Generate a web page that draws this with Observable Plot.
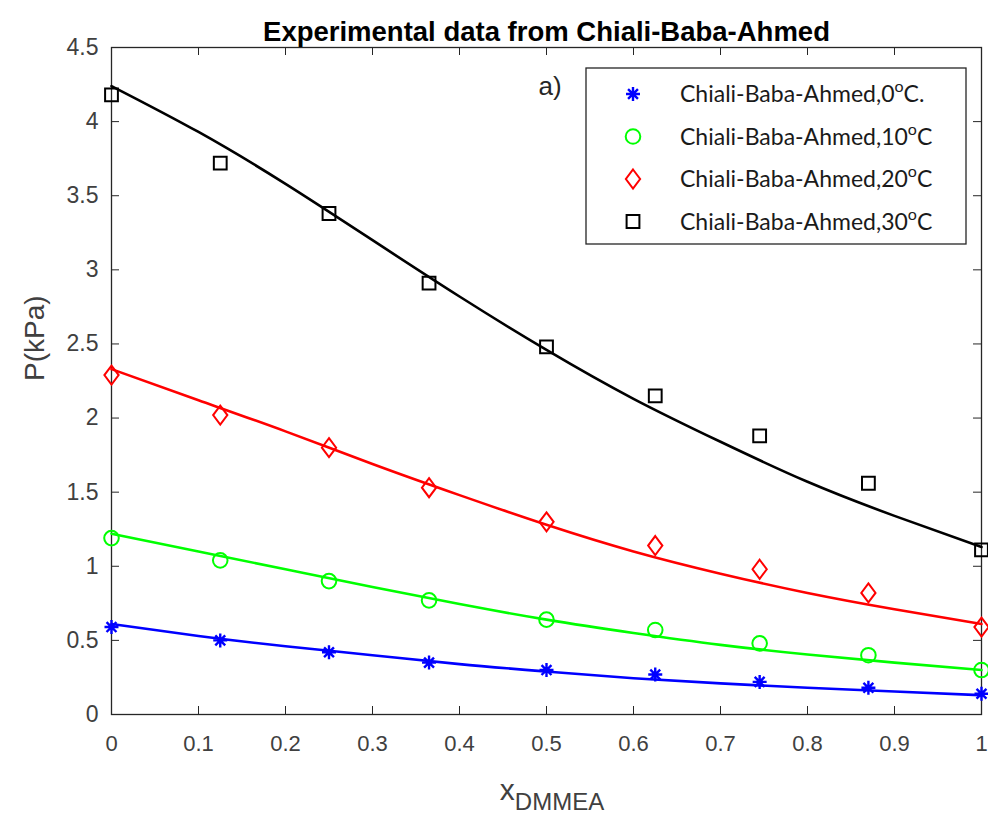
<!DOCTYPE html>
<html><head><meta charset="utf-8">
<script src="https://cdn.jsdelivr.net/npm/d3@7"></script>
<script src="https://cdn.jsdelivr.net/npm/@observablehq/plot@0.6"></script>
<style>body{margin:0;background:#fff;} svg{display:block;}</style>
</head><body><div id="chart"></div>
<script>
// ---- data ----
const xExp = [0, 0.125, 0.25, 0.365, 0.5, 0.625, 0.745, 0.87, 1];
const p0C  = [0.59, 0.50, 0.42, 0.35, 0.30, 0.27, 0.22, 0.18, 0.14];
const p10C = [1.19, 1.04, 0.90, 0.77, 0.64, 0.57, 0.48, 0.40, 0.30];
const p20C = [2.29, 2.02, 1.80, 1.53, 1.30, 1.14, 0.98, 0.82, 0.59];
const p30C = [4.18, 3.72, 3.38, 2.91, 2.48, 2.15, 1.88, 1.56, 1.11];

const xFit   = [0, 0.1, 0.2, 0.3, 0.4, 0.5, 0.6, 0.7, 0.8, 0.9, 1];
const fit0C  = [0.61, 0.53, 0.46, 0.40, 0.34, 0.29, 0.245, 0.21, 0.18, 0.155, 0.13];
const fit10C = [1.22, 1.10, 0.98, 0.86, 0.745, 0.64, 0.55, 0.47, 0.405, 0.35, 0.30];
const fit20C = [2.33, 2.12, 1.91, 1.69, 1.48, 1.28, 1.10, 0.95, 0.82, 0.71, 0.61];
const fit30C = [4.24, 3.93, 3.58, 3.20, 2.82, 2.46, 2.13, 1.84, 1.57, 1.34, 1.13];

const legendLabels = ["Chiali-Baba-Ahmed,0^oC.", "Chiali-Baba-Ahmed,10^oC", "Chiali-Baba-Ahmed,20^oC", "Chiali-Baba-Ahmed,30^oC"];
const xTicks = [0, 0.1, 0.2, 0.3, 0.4, 0.5, 0.6, 0.7, 0.8, 0.9, 1];
const yTicks = [0, 0.5, 1, 1.5, 2, 2.5, 3, 3.5, 4, 4.5];
const titleText = "Experimental data from Chiali-Baba-Ahmed";
const yLabel = "P(kPa)";
const xLabelMain = "x", xLabelSub = "DMMEA";
const panelLabel = "a)";

// ---- custom marker shapes (MATLAB-like) ----
const star8 = {draw(ctx, size) {
  const r = Math.sqrt(size / Math.PI);
  for (let i = 0; i < 4; i++) {
    const a = i * Math.PI / 4;
    ctx.moveTo(r * Math.cos(a), r * Math.sin(a));
    ctx.lineTo(-r * Math.cos(a), -r * Math.sin(a));
  }
}};
const diamondM = {draw(ctx, size) {
  const r = Math.sqrt(size / Math.PI), w = r * 0.75;
  ctx.moveTo(0, -r); ctx.lineTo(w, 0); ctx.lineTo(0, r); ctx.lineTo(-w, 0); ctx.closePath();
}};
const squareM = {draw(ctx, size) {
  const r = Math.sqrt(size / Math.PI);
  ctx.rect(-r, -r, 2 * r, 2 * r);
}};
const circleM = {draw(ctx, size) {
  const r = Math.sqrt(size / Math.PI);
  ctx.moveTo(r, 0); ctx.arc(0, 0, r, 0, 2 * Math.PI);
}};

const series = [
  {exp: p0C,  fit: fit0C,  color: "#0000ff", symbol: star8,    r: 7,   sw: 2.4},
  {exp: p10C, fit: fit10C, color: "#00ff00", symbol: circleM,  r: 7.3, sw: 2},
  {exp: p20C, fit: fit20C, color: "#ff0000", symbol: diamondM, r: 9.5, sw: 2},
  {exp: p30C, fit: fit30C, color: "#000000", symbol: squareM,  r: 6.4, sw: 2}
];

const W = 988, H = 818, mL = 111, mR = 7, mT = 47, mB = 104;
const innerW = W - mL - mR, innerH = H - mT - mB;
const axisColor = "#262626", labelColor = "#404040", tickLen = 8;

const marks = [
  Plot.frame({stroke: axisColor, strokeWidth: 1.3}),
  Plot.tickX(xTicks, {x: d => d, insetTop: innerH - tickLen, stroke: axisColor}),
  Plot.tickX(xTicks, {x: d => d, insetBottom: innerH - tickLen, stroke: axisColor}),
  Plot.tickY(yTicks, {y: d => d, insetRight: innerW - tickLen, stroke: axisColor}),
  Plot.tickY(yTicks, {y: d => d, insetLeft: innerW - tickLen, stroke: axisColor}),
  Plot.axisX({ticks: xTicks, tickSize: 0, tickPadding: 21, fontSize: 22, fill: labelColor, tickFormat: d => String(d), label: null}),
  Plot.axisY({ticks: yTicks, tickSize: 0, tickPadding: 13, fontSize: 23, fill: labelColor, tickFormat: d => String(d), label: null})
];
for (const s of series) {
  marks.push(Plot.line(xFit.map((x, i) => ({x, y: s.fit[i]})),
    {x: "x", y: "y", stroke: s.color, strokeWidth: 2.6, curve: "natural"}));
}
for (const s of series) {
  marks.push(Plot.dot(xExp.map((x, i) => ({x, y: s.exp[i]})),
    {x: "x", y: "y", symbol: s.symbol, r: s.r, stroke: s.color, fill: "none", strokeWidth: s.sw}));
}
marks.push(
  Plot.text([titleText], {frameAnchor: "top", dy: -26, fontSize: 27.5, fontWeight: "bold", fill: "#000"}),
  Plot.text([yLabel], {frameAnchor: "left", dx: -76, rotate: -90, fontSize: 28, fill: labelColor}),
  Plot.text([panelLabel], {frameAnchor: "top-left", dx: 427, dy: 29, fontSize: 26, fill: axisColor, textAnchor: "start"})
);

const chart = Plot.plot({
  width: W, height: H,
  marginLeft: mL, marginRight: mR, marginTop: mT, marginBottom: mB,
  x: {domain: [0, 1]},
  y: {domain: [0, 4.5]},
  style: {fontFamily: "'Liberation Sans', Arial, sans-serif", background: "#fff", overflow: "visible"},
  marks
});
document.getElementById("chart").appendChild(chart);

// ---- x label with subscript ----
const svg = d3.select(chart);
const xl = svg.append("text")
  .attr("x", mL + innerW / 2 + 6).attr("y", 800)
  .attr("text-anchor", "middle")
  .attr("font-family", "'Liberation Sans', Arial, sans-serif")
  .attr("fill", labelColor);
xl.append("tspan").attr("font-size", 30).text(xLabelMain);
xl.append("tspan").attr("font-size", 24).attr("dy", 10).text(xLabelSub);

// ---- legend ----
const lg = svg.append("g");
const lx = 586, ly = 68, lw = 380, lh = 176;
lg.append("rect").attr("x", lx).attr("y", ly).attr("width", lw).attr("height", lh)
  .attr("fill", "#fff").attr("stroke", axisColor).attr("stroke-width", 1.3);
series.forEach((s, i) => {
  const cy = ly + 26 + i * 42.5;
  lg.append("path").attr("transform", `translate(${lx + 47},${cy})`)
    .attr("d", d3.symbol(s.symbol, Math.PI * s.r * s.r)())
    .attr("fill", "none").attr("stroke", s.color).attr("stroke-width", s.sw);
  const [pre, post] = legendLabels[i].split("^o");
  const t = lg.append("text").attr("x", lx + 94).attr("y", cy + 8)
    .attr("text-anchor", "start")
    .attr("font-family", "Lato, 'Open Sans', sans-serif").attr("font-size", 23).attr("fill", "#1a1a1a");
  t.append("tspan").text(pre);
  t.append("tspan").attr("font-size", 16).attr("dy", -10).text("o");
  t.append("tspan").attr("dy", 10).text(post);
});
</script>
</body></html>
